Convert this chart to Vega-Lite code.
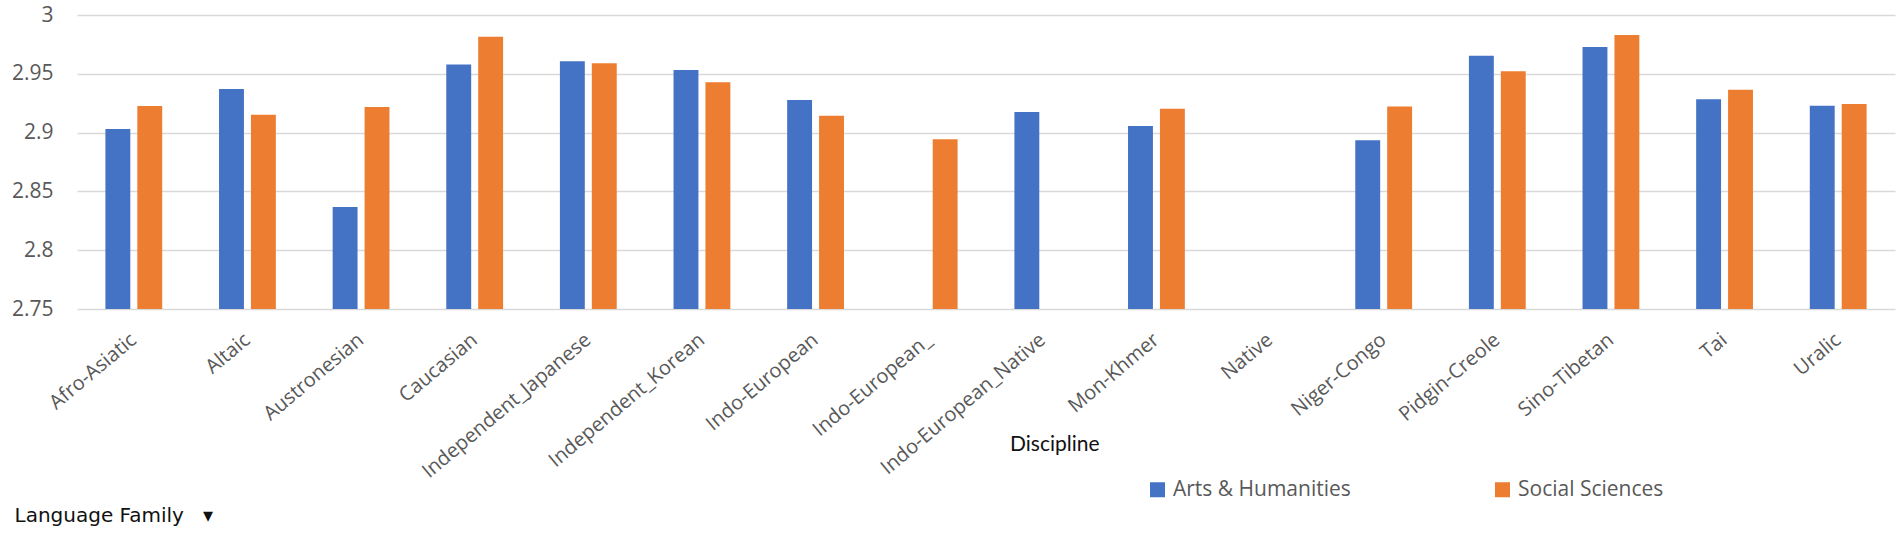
{
  "$schema": "https://vega.github.io/schema/vega-lite/v6.json",
  "width": 1818,
  "height": 294,
  "autosize": {"type": "none"},
  "padding": {"left": 77, "top": 15, "right": 7, "bottom": 230},
  "background": "white",
  "title": {
    "text": "Discipline",
    "orient": "top",
    "anchor": "start",
    "frame": "group",
    "offset": 0,
    "dx": 933,
    "dy": 462,
    "baseline": "middle",
    "font": "Lato",
    "fontSize": 21,
    "fontWeight": "normal",
    "color": "#111111"
  },
  "data": {
    "values": [
      {"Family": "Afro-Asiatic", "Discipline": "Arts & Humanities", "Score": 2.903},
      {"Family": "Afro-Asiatic", "Discipline": "Social Sciences", "Score": 2.9226},
      {"Family": "Altaic", "Discipline": "Arts & Humanities", "Score": 2.937},
      {"Family": "Altaic", "Discipline": "Social Sciences", "Score": 2.9152},
      {"Family": "Austronesian", "Discipline": "Arts & Humanities", "Score": 2.8367},
      {"Family": "Austronesian", "Discipline": "Social Sciences", "Score": 2.9218},
      {"Family": "Caucasian", "Discipline": "Arts & Humanities", "Score": 2.958},
      {"Family": "Caucasian", "Discipline": "Social Sciences", "Score": 2.9816},
      {"Family": "Independent_Japanese", "Discipline": "Arts & Humanities", "Score": 2.9606},
      {"Family": "Independent_Japanese", "Discipline": "Social Sciences", "Score": 2.9589},
      {"Family": "Independent_Korean", "Discipline": "Arts & Humanities", "Score": 2.9532},
      {"Family": "Independent_Korean", "Discipline": "Social Sciences", "Score": 2.9428},
      {"Family": "Indo-European", "Discipline": "Arts & Humanities", "Score": 2.9277},
      {"Family": "Indo-European", "Discipline": "Social Sciences", "Score": 2.9144},
      {"Family": "Indo-European_", "Discipline": "Social Sciences", "Score": 2.8943},
      {"Family": "Indo-European_Native", "Discipline": "Arts & Humanities", "Score": 2.9175},
      {"Family": "Mon-Khmer", "Discipline": "Arts & Humanities", "Score": 2.9056},
      {"Family": "Mon-Khmer", "Discipline": "Social Sciences", "Score": 2.9203},
      {"Family": "Niger-Congo", "Discipline": "Arts & Humanities", "Score": 2.8934},
      {"Family": "Niger-Congo", "Discipline": "Social Sciences", "Score": 2.9223},
      {"Family": "Pidgin-Creole", "Discipline": "Arts & Humanities", "Score": 2.9654},
      {"Family": "Pidgin-Creole", "Discipline": "Social Sciences", "Score": 2.9521},
      {"Family": "Sino-Tibetan", "Discipline": "Arts & Humanities", "Score": 2.9728},
      {"Family": "Sino-Tibetan", "Discipline": "Social Sciences", "Score": 2.983},
      {"Family": "Tai", "Discipline": "Arts & Humanities", "Score": 2.9283},
      {"Family": "Tai", "Discipline": "Social Sciences", "Score": 2.9365},
      {"Family": "Uralic", "Discipline": "Arts & Humanities", "Score": 2.9229},
      {"Family": "Uralic", "Discipline": "Social Sciences", "Score": 2.9243}
    ]
  },
  "mark": {"type": "bar", "clip": true},
  "encoding": {
    "x": {
      "field": "Family",
      "type": "nominal",
      "scale": {
        "domain": ["Afro-Asiatic", "Altaic", "Austronesian", "Caucasian", "Independent_Japanese", "Independent_Korean", "Indo-European", "Indo-European_", "Indo-European_Native", "Mon-Khmer", "Native", "Niger-Congo", "Pidgin-Creole", "Sino-Tibetan", "Tai", "Uralic"],
        "paddingInner": 0.5,
        "paddingOuter": 0.25
      },
      "axis": {
        "title": "Language Family\u00a0\u00a0\u00a0▾",
        "titleX": -63,
        "titleY": 206,
        "titleAlign": "left",
        "titleBaseline": "middle",
        "titleAngle": 0,
        "titleFont": "DejaVu Sans",
        "titleFontSize": 20,
        "titleFontWeight": "normal",
        "titleColor": "#111111",
        "labelAngle": -40,
        "labelAlign": "right",
        "labelBaseline": "middle",
        "labelPadding": 28,
        "labelFont": "Open Sans",
        "labelFontSize": 20,
        "labelColor": "#595959",
        "labelLimit": 400,
        "labelOverlap": false,
        "domain": false,
        "ticks": false,
        "grid": false
      }
    },
    "xOffset": {
      "field": "Discipline",
      "type": "nominal",
      "scale": {"paddingInner": 0.22, "paddingOuter": 0}
    },
    "y": {
      "field": "Score",
      "type": "quantitative",
      "scale": {"domain": [2.75, 3], "zero": false, "nice": false},
      "axis": {
        "title": null,
        "values": [2.75, 2.8, 2.85, 2.9, 2.95, 3],
        "format": ".2~f",
        "labelFont": "Open Sans",
        "labelFontSize": 21,
        "labelColor": "#595959",
        "labelPadding": 24,
        "domain": false,
        "ticks": false,
        "grid": true,
        "gridColor": "#d9d9d9",
        "gridWidth": 1.5
      }
    },
    "color": {
      "field": "Discipline",
      "type": "nominal",
      "scale": {"domain": ["Arts & Humanities", "Social Sciences"], "range": ["#4472C4", "#ED7D31"]},
      "legend": {
        "title": null,
        "orient": "none",
        "legendX": 1070,
        "legendY": 464,
        "direction": "horizontal",
        "symbolType": "square",
        "symbolSize": 225,
        "symbolStrokeWidth": 0,
        "symbolOpacity": 1,
        "labelOffset": 5,
        "labelFont": "Open Sans",
        "labelFontSize": 21,
        "labelColor": "#595959",
        "labelLimit": 400,
        "columnPadding": 141,
        "padding": 0
      }
    }
  },
  "config": {"view": {"stroke": null}}
}
